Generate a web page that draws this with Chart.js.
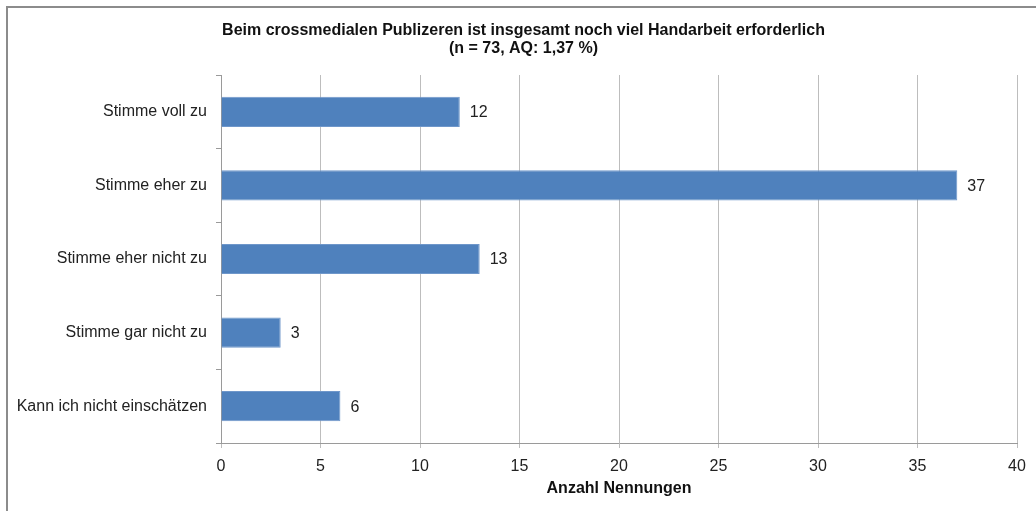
<!DOCTYPE html>
<html>
<head>
<meta charset="utf-8">
<script src="https://cdn.jsdelivr.net/npm/chart.js@4.4.1/dist/chart.umd.min.js"></script>
<style>
  html, body { margin: 0; padding: 0; background: #fff; }
  #wrap { width: 1036px; height: 511px; position: relative; }
</style>
</head>
<body>
<div id="wrap"><canvas id="myChart"></canvas></div>
<script>
const categories = [
  'Stimme voll zu',
  'Stimme eher zu',
  'Stimme eher nicht zu',
  'Stimme gar nicht zu',
  'Kann ich nicht einschätzen',
];
const counts = [12, 37, 13, 3, 6];
const titleLines = [
  'Beim crossmedialen Publizeren ist insgesamt noch viel Handarbeit erforderlich',
  '(n = 73, AQ: 1,37 %)',
];
const xTitle = 'Anzahl Nennungen';
const xMin = 0, xMax = 40, xStep = 5;

const FONT = 'Liberation Sans, Arial, sans-serif';

// outer frame (only top + left visible in the original)
const framePlugin = {
  id: 'frame',
  afterLayout(chart) {
    // title in the original sits a bit right of the canvas centre
    if (chart.titleBlock) chart.titleBlock.left = 30;
  },
  afterDraw(chart) {
    const ctx = chart.ctx;
    ctx.save();
    ctx.strokeStyle = '#8c8c8c';
    ctx.lineWidth = 2;
    ctx.beginPath();
    ctx.moveTo(7, chart.height);
    ctx.lineTo(7, 7);
    ctx.lineTo(chart.width, 7);
    ctx.stroke();
    ctx.restore();
  }
};

// value labels right of each bar
const valueLabels = {
  id: 'valueLabels',
  afterDatasetsDraw(chart) {
    const ctx = chart.ctx;
    const meta = chart.getDatasetMeta(0);
    ctx.save();
    ctx.font = '16px ' + FONT;
    ctx.fillStyle = '#222';
    ctx.textAlign = 'left';
    ctx.textBaseline = 'middle';
    meta.data.forEach(function (bar, i) {
      ctx.fillText(String(counts[i]), bar.x + 10, bar.y + 1);
    });
    ctx.restore();
  }
};

new Chart(document.getElementById('myChart'), {
  type: 'bar',
  data: {
    labels: categories,
    datasets: [{
      data: counts,
      backgroundColor: '#4F81BD',
      borderColor: '#6F97CA',
      borderWidth: 1,
      barPercentage: 0.41,
      categoryPercentage: 1,
    }]
  },
  options: {
    indexAxis: 'y',
    responsive: true,
    maintainAspectRatio: false,
    animation: false,
    layout: { padding: { top: 0, right: 19, bottom: 0, left: 0 } },
    plugins: {
      legend: { display: false },
      tooltip: { enabled: false },
      title: {
        display: true,
        text: titleLines,
        color: '#111',
        font: { family: FONT, size: 16, weight: 'bold', lineHeight: '18px' },
        padding: { top: 22, bottom: 17 },
      },
    },
    scales: {
      x: {
        min: xMin,
        max: xMax,
        ticks: {
          stepSize: xStep,
          color: '#222',
          padding: 9,
          font: { family: FONT, size: 16 },
        },
        grid: { color: '#BDBDBD', tickLength: 5, lineWidth: 1 },
        border: { color: '#9a9a9a' },
        title: {
          display: true,
          text: xTitle,
          color: '#111',
          font: { family: FONT, size: 16, weight: 'bold', lineHeight: '18px' },
          padding: { top: 4, bottom: 13 },
        },
        afterFit(scale) { scale.height = 68; },
      },
      y: {
        ticks: {
          color: '#222',
          padding: 9,
          font: { family: FONT, size: 16 },
        },
        grid: { drawOnChartArea: false, color: '#9a9a9a', tickLength: 5, offset: true },
        border: { color: '#9a9a9a' },
        afterFit(scale) { scale.width = 221; },
      },
    },
  },
  plugins: [framePlugin, valueLabels],
});
</script>
</body>
</html>
